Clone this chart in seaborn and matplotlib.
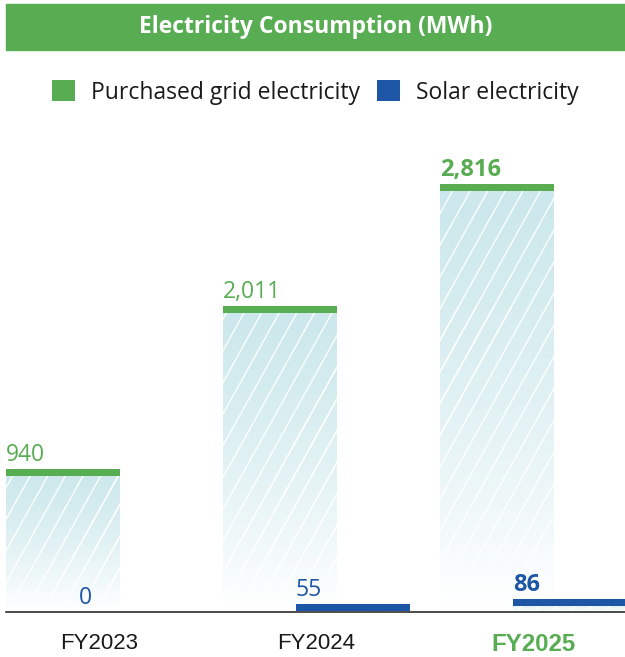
import numpy as np
import pandas as pd
import matplotlib
matplotlib.use("Agg")
import matplotlib.pyplot as plt
import seaborn as sns
from matplotlib.patches import Patch, Rectangle
from matplotlib.collections import LineCollection
from matplotlib.transforms import IdentityTransform

# data
years = ["FY2023", "FY2024", "FY2025"]
grid_mwh = [940, 2011, 2816]
solar_mwh = [0, 55, 86]
series = ["Purchased grid electricity", "Solar electricity"]
title = "Electricity Consumption (MWh)"

GREEN = "#58ac52"
BLUE = "#1e56a6"
TEXT = "#1a1a1a"
TOP_COL = np.array([0.80, 0.91, 0.925])

W, H = 625, 657
PX_PER_CAT = 217.0      # px between year groups
PX_PER_MWH = 0.152
BAR_PX = 114
CAP_PX = 7
SLOPE, STEP = 1.8, 17.6  # hatch

df = pd.DataFrame({
    "year": years * 2,
    "mwh": grid_mwh + solar_mwh,
    "series": [series[0]] * len(years) + [series[1]] * len(years),
})

sns.set_theme(style="white")
plt.rcParams["font.family"] = ["Open Sans", "DejaVu Sans"]

fig = plt.figure(figsize=(W / 100, H / 100), dpi=100)
ax = fig.add_axes([6 / W, (H - 612) / H, (W - 6) / W, (612 - 140) / H])

sns.barplot(data=df, x="year", y="mwh", hue="series", order=years, hue_order=series,
            palette=[GREEN, BLUE], saturation=1, width=0.672, errorbar=None,
            legend=False, ax=ax)

xlim = (-93.5 / PX_PER_CAT, (W - 6 - 93.5) / PX_PER_CAT)
ylim = (0, 472 / PX_PER_MWH)
bar_w = BAR_PX / PX_PER_CAT
cap_h = CAP_PX / PX_PER_MWH

t = np.linspace(0, 1, 128) ** 1.3
grad = TOP_COL[None, None, :] * (1 - t[:, None, None]) + t[:, None, None]

bars = []
for p in list(ax.patches):
    c = p.get_x() + p.get_width() / 2
    idx = int(round(c))
    is_grid = c < idx
    h = p.get_height()
    p.set_x(c - bar_w / 2)
    p.set_width(bar_w)
    p.set_facecolor("none")
    p.set_edgecolor("none")
    z = 1 if is_grid else 2
    p.set_zorder(z)
    bars.append((p, idx, is_grid, h, z))
    if h <= 0:
        continue
    im = ax.imshow(grad, extent=[c - bar_w / 2, c + bar_w / 2, 0, h], aspect="auto",
                   interpolation="bilinear", zorder=z)
    im.set_clip_path(p)
    ax.bar(c, cap_h, bottom=h - cap_h, width=bar_w, color=GREEN if is_grid else BLUE,
           linewidth=0, zorder=z + 0.2)

ax.set_xlim(*xlim)
ax.set_ylim(*ylim)

for p, idx, is_grid, h, z in bars:
    if h > 0:
        bb = p.get_window_extent()
        x0, y0, x1, y1 = bb.x0, bb.y0, bb.x1, bb.y1
        cs = np.arange(np.floor((x0 - y1 / SLOPE) / STEP) * STEP, x1 - y0 / SLOPE + STEP, STEP)
        segs = [[(cc + y0 / SLOPE, y0), (cc + y1 / SLOPE, y1)] for cc in cs]
        lc = LineCollection(segs, colors="white", linewidths=1.0, alpha=0.95,
                            transform=IdentityTransform(), zorder=z + 0.1)
        lc.set_clip_path(p)
        ax.add_collection(lc, autolim=False)
    last = idx == len(years) - 1
    ax.annotate(f"{int(h):,}", xy=(p.get_x(), h), xytext=(0, 5.8), textcoords="offset points",
                ha="left", va="baseline", color=GREEN if is_grid else BLUE,
                fontsize=17 if last else 16.5, fontweight="bold" if last else "normal", zorder=3)

ax.set_xlabel("")
ax.set_ylabel("")
ax.set_yticks([])
ax.tick_params(axis="x", length=0, pad=15)
for i, lab in enumerate(ax.get_xticklabels()):
    lab.set_family(["Liberation Sans", "DejaVu Sans"])
    if i == len(years) - 1:
        lab.set_fontsize(17.3)
        lab.set_fontweight("bold")
        lab.set_color(GREEN)
    else:
        lab.set_fontsize(16)
        lab.set_color(TEXT)
sns.despine(ax=ax, left=True)
ax.spines["bottom"].set_color(TEXT)
ax.spines["bottom"].set_linewidth(1.1)

# title banner
fig.patches.append(Rectangle((6 / W, 1 - 50 / H), (W - 6) / W, 46 / H,
                             transform=fig.transFigure, color=GREEN, zorder=0))
fig.text(316 / W, 1 - 27 / H, title, ha="center", va="center", color="white",
         fontsize=16.5, fontweight="bold")

handles = [Patch(facecolor=GREEN, edgecolor="none"), Patch(facecolor=BLUE, edgecolor="none")]
fig.legend(handles, series, loc="center", bbox_to_anchor=(315.5 / W, 1 - 92.5 / H), ncol=2,
           frameon=False, fontsize=16.5, handlelength=1.0, handleheight=1.0,
           handletextpad=0.7, columnspacing=0.75, labelcolor=TEXT, borderpad=0)

fig.savefig("out.png", dpi=100)
